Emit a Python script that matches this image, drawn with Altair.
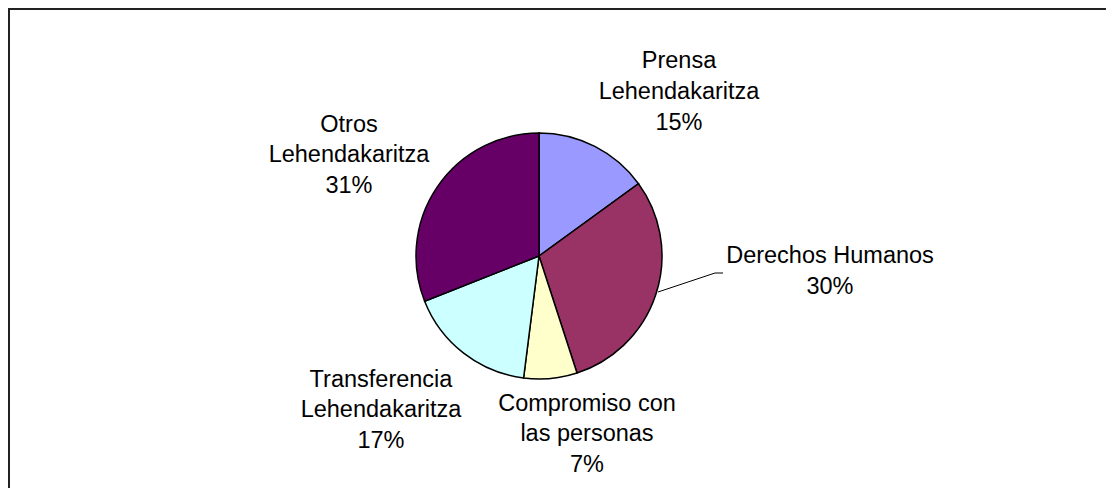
import altair as alt
import pandas as pd

# --- data ---
categories = [
    "Prensa Lehendakaritza",
    "Derechos Humanos",
    "Compromiso con las personas",
    "Transferencia Lehendakaritza",
    "Otros Lehendakaritza",
]
label_text = [
    "Prensa\nLehendakaritza",
    "Derechos Humanos",
    "Compromiso con\nlas personas",
    "Transferencia\nLehendakaritza",
    "Otros\nLehendakaritza",
]
values = [15, 30, 7, 17, 31]
colors = ["#9999FF", "#993366", "#FFFFCC", "#CCFFFF", "#660066"]

# --- layout (annotation anchors, chart pixel coords) ---
label_x = [671, 822, 579, 373, 341]
label_y = [60.3, 255.3, 402.7, 378.7, 123.7]
W, H = 1098, 480
CX, CY, R = 531, 248, 123

df = pd.DataFrame({
    "idx": list(range(len(categories))),
    "category": categories,
    "value": values,
})
labels = pd.DataFrame({
    "label": [f"{t}\n{v}%" for t, v in zip(label_text, values)],
    "lx": label_x,
    "ly": label_y,
})
leader = pd.DataFrame({"x": [650, 707], "y": [284, 265], "x2": [707, 715], "y2": [265, 265]})
one = pd.DataFrame({"a": [0]})

pie = alt.Chart(df).mark_arc(outerRadius=R, stroke="black", strokeWidth=1.5).encode(
    theta=alt.Theta("value:Q", stack=True),
    order=alt.Order("idx:Q", sort="ascending"),
    color=alt.Color("category:N", scale=alt.Scale(domain=categories, range=colors), legend=None),
    x=alt.value(CX),
    y=alt.value(CY),
)

text = alt.Chart(labels).mark_text(
    font="Liberation Sans", fontSize=23.5, align="center", baseline="alphabetic",
    lineBreak="\n", lineHeight=30.7, color="black",
).encode(
    x=alt.X("lx:Q", scale=None),
    y=alt.Y("ly:Q", scale=None),
    text="label:N",
)

lead = alt.Chart(leader).mark_rule(color="black", strokeWidth=1).encode(
    x=alt.X("x:Q", scale=None), y=alt.Y("y:Q", scale=None),
    x2="x2:Q", y2="y2:Q",
)

top_border = alt.Chart(one).mark_rule(color="#222222", strokeWidth=2).encode(
    x=alt.value(0), x2=alt.value(W + 20), y=alt.value(1),
)
left_border = alt.Chart(one).mark_rule(color="#222222", strokeWidth=2).encode(
    x=alt.value(1), y=alt.value(0), y2=alt.value(H + 20),
)

chart = alt.layer(pie, lead, text, top_border, left_border).properties(
    width=W, height=H,
    autosize=alt.AutoSizeParams(type="none"),
    padding=0,
    background="white",
).configure_view(stroke=None)

chart.save("out.html", embed_options={"renderer": "svg", "actions": False})
